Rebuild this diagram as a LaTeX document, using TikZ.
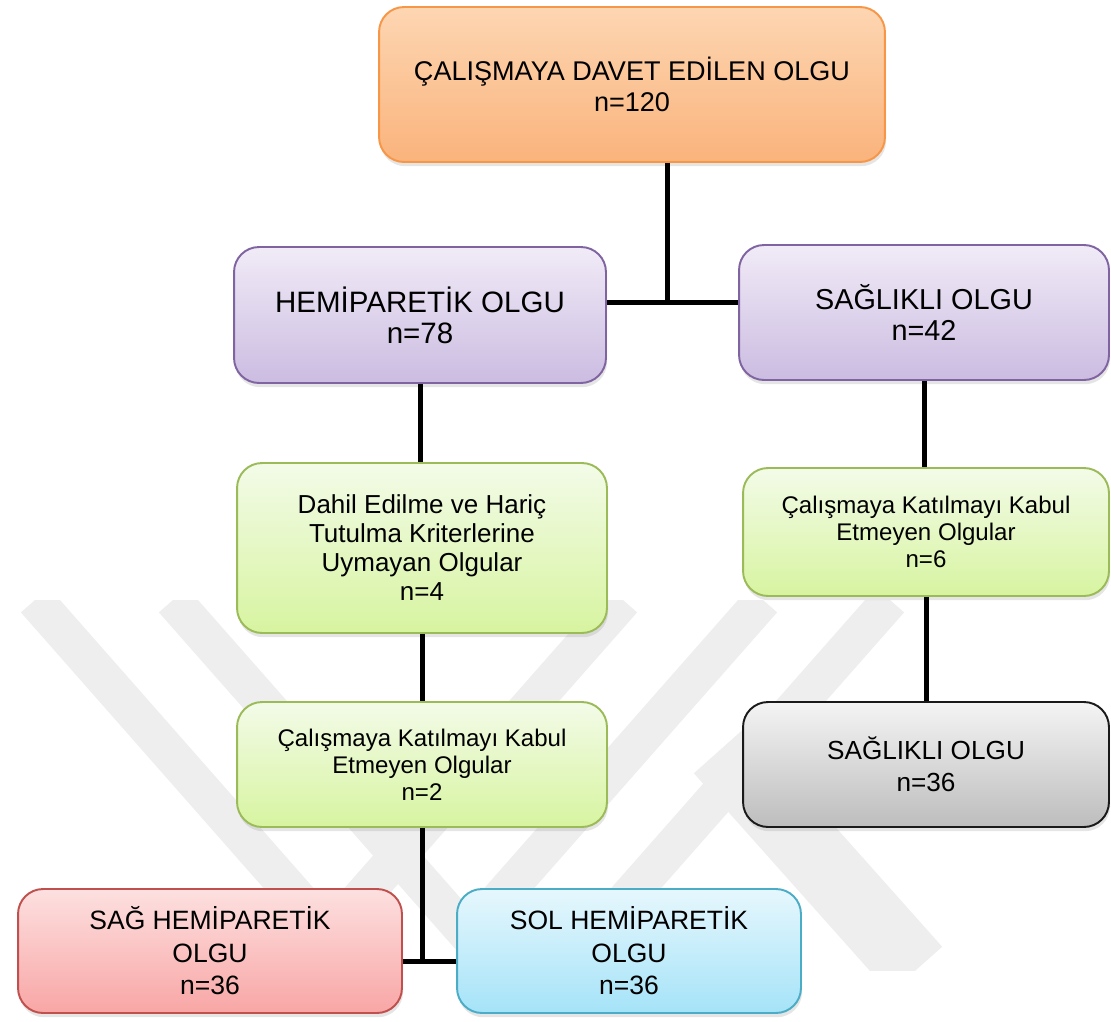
\documentclass[tikz,border=0pt]{standalone}
\usepackage{fontspec}
\setmainfont{Liberation Sans}
\usetikzlibrary{shadows}
\definecolor{orBd}{HTML}{F79646}\definecolor{orT}{HTML}{FDD6B2}\definecolor{orB}{HTML}{FAB37C}
\definecolor{puBd}{HTML}{8064A2}\definecolor{puT}{HTML}{F1EBF7}\definecolor{puB}{HTML}{CBBCE1}
\definecolor{grBd}{HTML}{9BBB59}\definecolor{grT}{HTML}{F3FBE8}\definecolor{grB}{HTML}{D7F4A0}
\definecolor{gyBd}{HTML}{1A1A1A}\definecolor{gyT}{HTML}{F4F4F4}\definecolor{gyB}{HTML}{BDBDBD}
\definecolor{rdBd}{HTML}{C0504D}\definecolor{rdT}{HTML}{FDE0E0}\definecolor{rdB}{HTML}{F8A6A5}
\definecolor{blBd}{HTML}{4BACC6}\definecolor{blT}{HTML}{E6F7FD}\definecolor{blB}{HTML}{A5E3F8}
\definecolor{wmark}{HTML}{EEEEEE}
\begin{document}
\begin{tikzpicture}[x=0.02cm,y=-0.02cm,
  box/.style={rounded corners=0.5cm, line width=1.1pt, align=center, inner sep=0pt,
    drop shadow={shadow xshift=0.6pt, shadow yshift=-2.4pt, opacity=0.2}},
  obox/.style={box, draw=orBd, top color=orT, bottom color=orB},
  pbox/.style={box, draw=puBd, top color=puT, bottom color=puB},
  gbox/.style={box, draw=grBd, top color=grT, bottom color=grB},
  ybox/.style={box, draw=gyBd, top color=gyT, bottom color=gyB},
  rbox/.style={box, draw=rdBd, top color=rdT, bottom color=rdB},
  bbox/.style={box, draw=blBd, top color=blT, bottom color=blB},
  conn/.style={line width=2.85pt, black},
  wm/.style={line width=0.75cm, wmark, line cap=butt}
]
\useasboundingbox (0,0) rectangle (1111,1021);
\fill[white] (0,0) rectangle (1111,1021);
% watermark
\begin{scope}
\clip (0,600) rectangle (1111,970);
\draw[wm] (35,600) -- (329,934) -- (623,600);
\draw[wm] (173,600) -- (468,935) -- (763,600);
\draw[wm] (890,600) -- (564,970);
\draw[wm, line width=1.4cm] (720,750) -- (916,970);
\end{scope}
% boxes
\node[obox, minimum width=10.12cm, minimum height=3.10cm,
  font=\fontsize{15.4pt}{17.6pt}\selectfont] (top) at (632,84.5)
  {ÇALIŞMAYA DAVET EDİLEN OLGU\\n=120};
\node[pbox, minimum width=7.44cm, minimum height=2.72cm,
  font=\fontsize{16.8pt}{17.6pt}\selectfont] (hemi) at (420,315)
  {HEMİPARETİK OLGU\\n=78};
\node[pbox, minimum width=7.40cm, minimum height=2.70cm,
  font=\fontsize{16.4pt}{17.6pt}\selectfont] (sag) at (924,312.5)
  {SAĞLIKLI OLGU\\n=42};
\node[gbox, minimum width=7.40cm, minimum height=3.40cm,
  font=\fontsize{14.8pt}{16.5pt}\selectfont] (g1) at (422,548)
  {Dahil Edilme ve Hariç\\Tutulma Kriterlerine\\Uymayan Olgular\\n=4};
\node[gbox, minimum width=7.32cm, minimum height=2.56cm,
  font=\fontsize{13.7pt}{15.4pt}\selectfont] (gR) at (926,532)
  {Çalışmaya Katılmayı Kabul\\Etmeyen Olgular\\n=6};
\node[ybox, minimum width=7.32cm, minimum height=2.50cm,
  font=\fontsize{14.9pt}{18.2pt}\selectfont] (gray) at (926,764.5)
  {SAĞLIKLI OLGU\\n=36};
\node[gbox, minimum width=7.40cm, minimum height=2.50cm,
  font=\fontsize{13.7pt}{15.4pt}\selectfont] (g3) at (422,764.5)
  {Çalışmaya Katılmayı Kabul\\Etmeyen Olgular\\n=2};
\node[rbox, minimum width=7.68cm, minimum height=2.48cm,
  font=\fontsize{15.1pt}{18.5pt}\selectfont] (red) at (210,951)
  {SAĞ HEMİPARETİK\\OLGU\\n=36};
\node[bbox, minimum width=6.88cm, minimum height=2.48cm,
  font=\fontsize{15.1pt}{18.5pt}\selectfont] (blue) at (629,951)
  {SOL HEMİPARETİK\\OLGU\\n=36};
% connectors
\coordinate (j1) at (667,302);
\coordinate (j2) at (420,961);
\draw[conn] (top.south -| j1) -- (j1);
\draw[conn] (hemi.east |- j1) -- (sag.west |- j1);
\draw[conn] (hemi.south) -- (hemi.south |- g1.north);
\draw[conn] (g1.south) -- (g1.south |- g3.north);
\draw[conn] (g3.south) -- (g3.south |- j2);
\draw[conn] (red.east |- j2) -- (blue.west |- j2);
\draw[conn] (sag.south) -- (sag.south |- gR.north);
\draw[conn] (gR.south) -- (gR.south |- gray.north);
\end{tikzpicture}
\end{document}
